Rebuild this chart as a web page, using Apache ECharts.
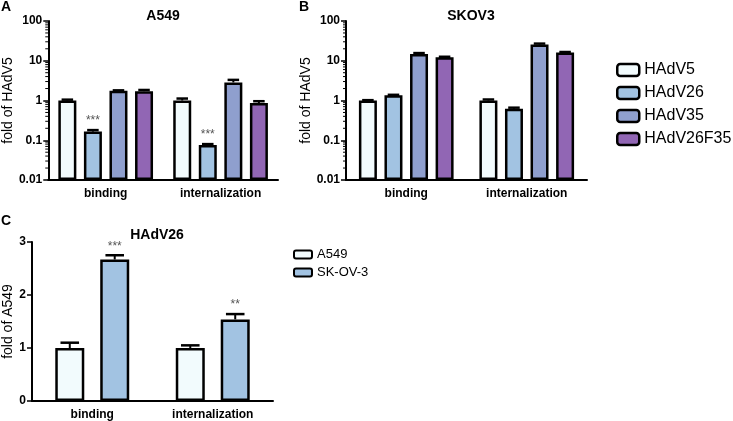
<!DOCTYPE html>
<html>
<head>
<meta charset="utf-8">
<script src="https://cdn.jsdelivr.net/npm/echarts@6/dist/echarts.min.js"></script>
<style>
  html, body { margin: 0; padding: 0; background: #fff; }
  #chart { width: 733px; height: 421px; }
</style>
</head>
<body>
<div id="chart"></div>
<script>
// --- data ---
const categories = ['binding', 'internalization'];
const virusNames = ['HAdV5', 'HAdV26', 'HAdV35', 'HAdV26F35'];
const virusColors = ['#f2fbfd', '#a2c3e2', '#8f9fce', '#9166b4'];

// panel A: A549, fold of HAdV5 (log scale)
const a549Values = [
  [1.0, 1.0],     // HAdV5
  [0.165, 0.076], // HAdV26
  [1.75, 2.85],   // HAdV35
  [1.72, 0.86]    // HAdV26F35
];
const a549Errors = [
  [0.05, 0.12],
  [0.015, 0.004],
  [0.05, 0.45],
  [0.12, 0.1]
];
const a549Sig = [['', ''], ['***', '***'], ['', ''], ['', '']];

// panel B: SKOV3, fold of HAdV5 (log scale)
const skovValues = [
  [1.0, 1.0],
  [1.35, 0.62],
  [14.8, 25.5],
  [12.3, 16.2]
];
const skovErrors = [
  [0.02, 0.06],
  [0.04, 0.04],
  [0.8, 1.5],
  [0.3, 0.4]
];

// panel C: HAdV26, fold of A549
const cellNames = ['A549', 'SK-OV-3'];
const cellColors = ['#f2fbfd', '#a2c3e2'];
const hadv26Values = [
  [1.0, 1.0],
  [2.67, 1.54]
];
const hadv26Errors = [
  [0.1, 0.05],
  [0.08, 0.1]
];
const hadv26Sig = [['', ''], ['***', '**']];

// log axis: decades and minor tick multipliers
const LOG_MIN = 0.01;
const logDecades = [0.01, 0.1, 1, 10];
const minorFactors = [2, 3, 4, 5, 6, 7, 8, 9];

// --- helpers ---
const FONT = 'Liberation Sans, Arial, sans-serif';
// bars on a log axis start at 1 in ECharts, so the A/B axes are plotted
// in decades above 0.01 (0 = 0.01, 4 = 100) and labelled back
const toLog = v => Math.log10(v / LOG_MIN);
const fromLog = v => parseFloat((LOG_MIN * Math.pow(10, v)).toFixed(2));

function errorSeries(gridIdx, vals, errs, sig, n, k, bw, gapRatio, tf) {
  const data = vals[k].map((v, i) => [i, tf(v), tf(v + errs[k][i])]);
  return {
    type: 'custom',
    xAxisIndex: gridIdx,
    yAxisIndex: gridIdx,
    z: 3,
    silent: true,
    encode: { x: 0, y: [1, 2] },
    data,
    renderItem(params, api) {
      const step = bw * (1 + gapRatio);
      const off = (k - (n - 1) / 2) * step;
      const base = api.coord([api.value(0), api.value(1)]);
      const top = api.coord([api.value(0), api.value(2)]);
      const x = base[0] + off;
      const cap = bw * 0.32;
      const children = [
        { type: 'line', shape: { x1: x, y1: base[1], x2: x, y2: top[1] }, style: { stroke: '#000', lineWidth: 2 } },
        { type: 'line', shape: { x1: x - cap, y1: top[1], x2: x + cap, y2: top[1] }, style: { stroke: '#000', lineWidth: 2.5 } }
      ];
      const label = sig ? sig[k][params.dataIndex] : '';
      if (label) {
        children.push({
          type: 'text',
          style: { text: label, x: x, y: top[1] - 3, align: 'center', verticalAlign: 'bottom',
                   fill: '#555', font: '12px ' + FONT }
        });
      }
      return { type: 'group', children };
    }
  };
}

// log-spaced minor ticks on the left of a log-panel y axis
function minorTickSeries(gridIdx) {
  const data = [];
  logDecades.forEach(d => minorFactors.forEach(f => data.push([0, toLog(d * f)])));
  return {
    type: 'custom',
    xAxisIndex: gridIdx,
    yAxisIndex: gridIdx,
    silent: true,
    clip: false,
    encode: { y: 1 },
    data,
    renderItem(params, api) {
      const y = api.coord([0, api.value(1)])[1];
      const x = params.coordSys.x;
      return { type: 'line', shape: { x1: x - 3, y1: y, x2: x, y2: y }, style: { stroke: '#000', lineWidth: 1 } };
    }
  };
}

function barSeries(gridIdx, names, colors, vals, bw, gap, tf) {
  return names.map((name, k) => ({
    name,
    type: 'bar',
    xAxisIndex: gridIdx,
    yAxisIndex: gridIdx,
    barWidth: bw,
    barGap: gap,
    data: vals[k].map(tf),
    itemStyle: { color: colors[k], borderColor: '#000', borderWidth: 2.5 }
  }));
}

function catAxis(gridIdx) {
  return {
    type: 'category',
    gridIndex: gridIdx,
    data: categories,
    axisLine: { lineStyle: { color: '#000', width: 2 } },
    axisTick: { alignWithLabel: true, length: 4, lineStyle: { color: '#000', width: 1.5 } },
    axisLabel: { color: '#000', fontWeight: 'bold', fontSize: 12, fontFamily: FONT, margin: 8 }
  };
}

function logAxis(gridIdx) {
  return {
    type: 'value',
    gridIndex: gridIdx,
    min: 0,
    max: 4,
    interval: 1,
    name: 'fold of HAdV5',
    nameLocation: 'middle',
    nameGap: 23,
    nameTextStyle: { color: '#000', fontSize: 14, fontFamily: FONT },
    axisLine: { show: true, lineStyle: { color: '#000', width: 2 } },
    axisTick: { show: true, length: 5, lineStyle: { color: '#000', width: 1.5 } },
    splitLine: { show: false },
    axisLabel: { color: '#000', fontWeight: 'bold', fontSize: 12, fontFamily: FONT, margin: 6, formatter: v => String(fromLog(v)) }
  };
}

const NA = virusNames.length;
const BW_AB = 18, GAP_AB = 0.42;
const BW_C = 29, GAP_C = 0.55;
const ident = v => v;

const series = [
  ...barSeries(0, virusNames, virusColors, a549Values, BW_AB, (GAP_AB * 100) + '%', toLog),
  ...barSeries(1, virusNames, virusColors, skovValues, BW_AB, (GAP_AB * 100) + '%', toLog),
  ...barSeries(2, cellNames, cellColors, hadv26Values, BW_C, (GAP_C * 100) + '%', ident),
  minorTickSeries(0),
  minorTickSeries(1)
];
for (let k = 0; k < NA; k++) {
  series.push(errorSeries(0, a549Values, a549Errors, a549Sig, NA, k, BW_AB, GAP_AB, toLog));
  series.push(errorSeries(1, skovValues, skovErrors, null, NA, k, BW_AB, GAP_AB, toLog));
}
for (let k = 0; k < cellNames.length; k++) {
  series.push(errorSeries(2, hadv26Values, hadv26Errors, hadv26Sig, cellNames.length, k, BW_C, GAP_C, ident));
}

const titleStyle = { fontSize: 14, fontWeight: 'bold', color: '#000', fontFamily: FONT };

const chart = echarts.init(document.getElementById('chart'));
chart.setOption({
  animation: false,
  backgroundColor: '#fff',
  textStyle: { fontFamily: FONT },
  title: [
    { text: 'A549', left: 158, top: 4, textAlign: 'center', textStyle: titleStyle },
    { text: 'SKOV3', left: 466, top: 4, textAlign: 'center', textStyle: titleStyle },
    { text: 'HAdV26', left: 152, top: 223, textAlign: 'center', textStyle: titleStyle },
    { text: 'A', left: 1, top: 0, padding: 0, textStyle: titleStyle },
    { text: 'B', left: 299, top: 0, padding: 0, textStyle: titleStyle },
    { text: 'C', left: 1, top: 214, padding: 0, textStyle: titleStyle }
  ],
  legend: [
    {
      data: virusNames,
      orient: 'vertical',
      left: 611,
      top: 57,
      icon: 'roundRect',
      itemWidth: 22,
      itemHeight: 12,
      itemGap: 7,
      itemStyle: { borderColor: '#000', borderWidth: 2.5 },
      textStyle: { fontSize: 16, color: '#000', fontFamily: FONT }
    },
    {
      data: cellNames,
      orient: 'vertical',
      left: 288,
      top: 243,
      icon: 'roundRect',
      itemWidth: 18,
      itemHeight: 8,
      itemGap: 5,
      itemStyle: { borderColor: '#000', borderWidth: 2 },
      textStyle: { fontSize: 13, color: '#000', fontFamily: FONT }
    }
  ],
  grid: [
    { left: 40, right: 455, top: 21, bottom: 241 },
    { left: 346, right: 146, top: 21, bottom: 241 },
    { left: 32, right: 460, top: 242, bottom: 20 }
  ],
  xAxis: [catAxis(0), catAxis(1), catAxis(2)],
  yAxis: [
    logAxis(0),
    logAxis(1),
    {
      type: 'value',
      gridIndex: 2,
      min: 0,
      max: 3,
      interval: 1,
      name: 'fold of A549',
      nameLocation: 'middle',
      nameGap: 17,
      nameTextStyle: { color: '#000', fontSize: 14, fontFamily: FONT },
      axisLine: { show: true, lineStyle: { color: '#000', width: 2 } },
      axisTick: { show: true, length: 5, lineStyle: { color: '#000', width: 1.5 } },
      splitLine: { show: false },
      axisLabel: { color: '#000', fontWeight: 'bold', fontSize: 12, fontFamily: FONT, margin: 6 }
    }
  ],
  series
});
</script>
</body>
</html>
